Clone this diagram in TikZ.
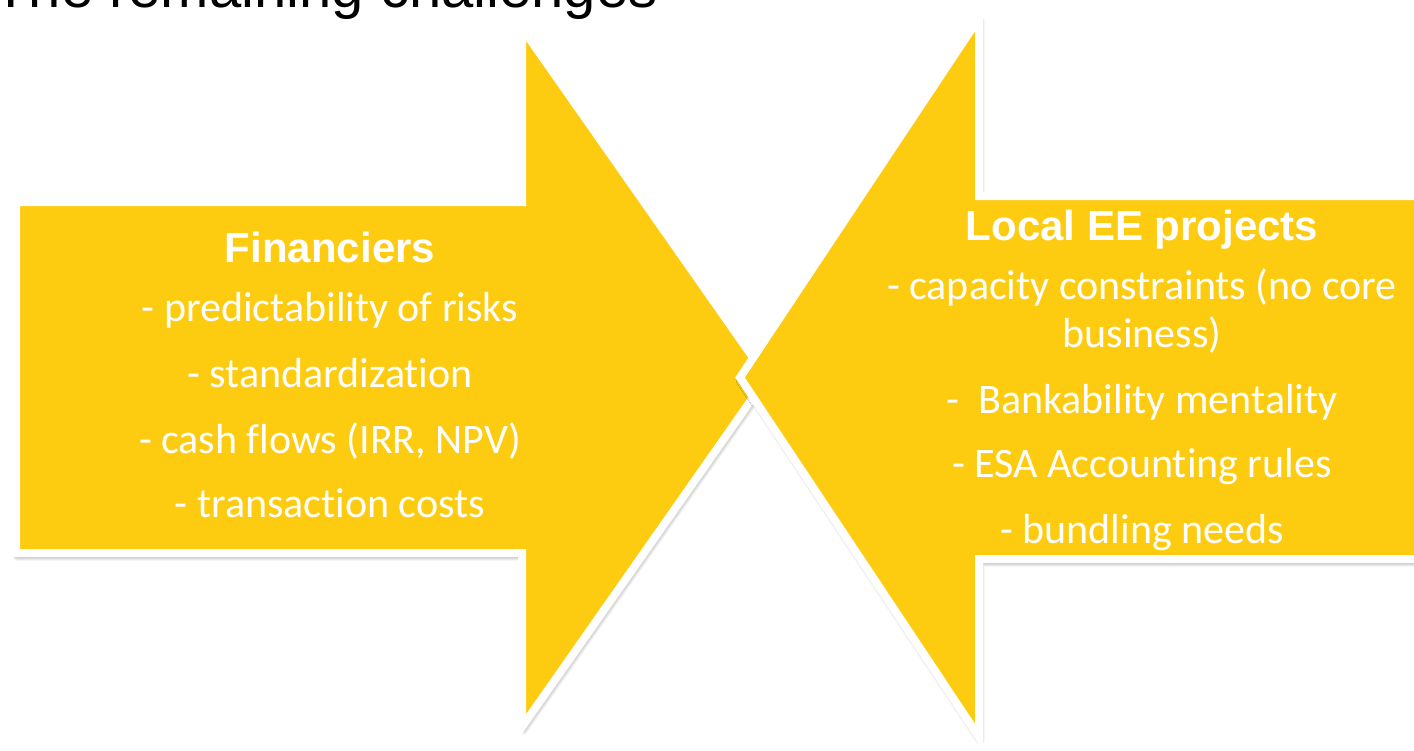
\documentclass[tikz,border=0pt]{standalone}
\usepackage{fontspec}
\setmainfont{Carlito}[Ligatures=NoCommon]
\newfontfamily\arialfont{Liberation Sans}
\usetikzlibrary{shadows.blur}
\definecolor{arrowyellow}{RGB}{253,203,16}

\tikzset{
  bigarrow/.style={fill=arrowyellow, draw=white, line width=4pt, miter limit=10,
    blur shadow={shadow xshift=0.6pt, shadow yshift=-1.6pt, shadow blur radius=2.5pt, shadow blur steps=10, shadow opacity=55}},
  heading/.style={anchor=base, inner sep=0pt, text=white, font=\arialfont\bfseries\fontsize{21}{25}\selectfont},
  listline/.style={anchor=base, inner sep=0pt, text=white, font=\fontsize{21}{25}\selectfont}
}

\begin{document}
\begin{tikzpicture}[x=0.5pt, y=-0.5pt]
	\def\yMID{377.5};
	\def\xLEFT{330};
	\def\xRIGHT{1142};

	\useasboundingbox (0,0) rectangle (1414,750);
	\clip (0,0) rectangle (1414,750);

	\node [anchor=base west, inner sep=0pt, font=\arialfont\fontsize{29}{34}\selectfont] (title) at (-7,7) {The remaining challenges};

	% financiers arrow, pointing right
	\draw [bigarrow] (16,202) -- (522,202) -- (522,28) -- (767,\yMID) -- (522,727) -- (522,553) -- (16,553) -- cycle;

	% projects arrow, pointing left
	\draw [bigarrow] (1440,196) -- (979,196) -- (979,18) -- (740,\yMID) -- (979,737) -- (979,559) -- (1440,559) -- cycle;

	\node [heading] (fin) at (\xLEFT,262) {Financiers};
	\foreach \txt/\yy [count=\i] in {{- predictability of risks}/321, {- standardization}/387, {- cash flows (IRR, NPV)}/453, {- transaction costs}/517}
		\node [listline] (fin\i) at (\xLEFT,\yy) {\txt};

	\node [heading] (loc) at (\xRIGHT,240) {Local EE projects};
	\foreach \txt/\yy [count=\i] in {{- capacity constraints (no core}/299, {business)}/347, {- \ Bankability mentality}/413, {- ESA Accounting rules}/477, {- bundling needs}/543}
		\node [listline] (loc\i) at (\xRIGHT,\yy) {\txt};
\end{tikzpicture}
\end{document}
